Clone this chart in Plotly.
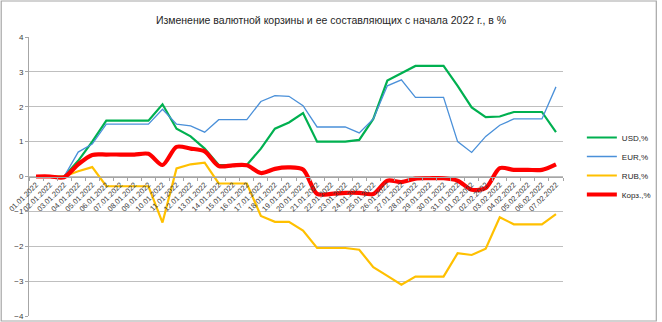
import plotly.graph_objects as go

dates = ["01.01.2022", "02.01.2022", "03.01.2022", "04.01.2022", "05.01.2022", "06.01.2022",
         "07.01.2022", "08.01.2022", "09.01.2022", "10.01.2022", "11.01.2022", "12.01.2022",
         "13.01.2022", "14.01.2022", "15.01.2022", "16.01.2022", "17.01.2022", "18.01.2022",
         "19.01.2022", "20.01.2022", "21.01.2022", "22.01.2022", "23.01.2022", "24.01.2022",
         "25.01.2022", "26.01.2022", "27.01.2022", "28.01.2022", "29.01.2022", "30.01.2022",
         "31.01.2022", "01.02.2022", "02.02.2022", "03.02.2022", "04.02.2022", "05.02.2022",
         "06.02.2022", "07.02.2022"]

usd = [0, 0, 0, 0.45, 1.0, 1.6, 1.6, 1.6, 1.6, 2.07, 1.37, 1.15, 0.8, 0.33, 0.33, 0.33,
       0.8, 1.37, 1.55, 1.82, 1.0, 1.0, 1.0, 1.05, 1.65, 2.75, 2.95, 3.17, 3.17, 3.17,
       2.6, 1.98, 1.7, 1.72, 1.85, 1.85, 1.85, 1.27]

eur = [0, 0, 0, 0.7, 0.93, 1.5, 1.5, 1.5, 1.5, 1.93, 1.5, 1.45, 1.27, 1.63, 1.63, 1.63,
       2.15, 2.32, 2.3, 2.03, 1.42, 1.42, 1.42, 1.25, 1.65, 2.6, 2.77, 2.27, 2.27, 2.27,
       1.0, 0.69, 1.15, 1.47, 1.65, 1.65, 1.65, 2.57]

rub = [0, 0, 0, 0.15, 0.27, -0.28, -0.28, -0.28, -0.28, -1.32, 0.23, 0.35, 0.4, -0.2, -0.2, -0.2,
       -1.13, -1.3, -1.3, -1.55, -2.05, -2.05, -2.05, -2.1, -2.6, -2.85, -3.1, -2.87, -2.87, -2.87,
       -2.2, -2.25, -2.07, -1.17, -1.37, -1.37, -1.37, -1.08]

basket = [0, 0, -0.02, 0.35, 0.62, 0.63, 0.63, 0.63, 0.65, 0.33, 0.85, 0.8, 0.72, 0.3, 0.32, 0.32,
          0.1, 0.22, 0.26, 0.2, -0.5, -0.5, -0.47, -0.47, -0.5, -0.12, -0.16, -0.06, -0.05, -0.05,
          -0.12, -0.38, -0.33, 0.24, 0.19, 0.19, 0.19, 0.35]

names = ["USD,%", "EUR,%", "RUB,%", "Корз.,%"]
title = "Изменение валютной корзины и ее составляющих с начала 2022 г., в %"

FONT = "Liberation Sans, Arial, sans-serif"

fig = go.Figure()
fig.add_trace(go.Scatter(x=dates, y=usd, name=names[0], mode="lines",
                         line=dict(color="#00B050", width=2.2)))
fig.add_trace(go.Scatter(x=dates, y=eur, name=names[1], mode="lines",
                         line=dict(color="#4A90D9", width=1.3)))
fig.add_trace(go.Scatter(x=dates, y=rub, name=names[2], mode="lines",
                         line=dict(color="#FFC000", width=2.2)))
fig.add_trace(go.Scatter(x=dates, y=basket, name=names[3], mode="lines",
                         line=dict(color="#FF0000", width=4.2, shape="spline", smoothing=0.8)))

W, H = 662, 322
L, R, T, B = 29, 95, 37, 6
pw, ph = W - L - R, H - T - B

fig.update_layout(
    width=W, height=H,
    template="none",
    paper_bgcolor="white", plot_bgcolor="white",
    margin=dict(l=L, r=R, t=T, b=B, pad=0),
    font=dict(family=FONT, size=8, color="#404040"),
    title=dict(text=title, x=0.5, xref="container", xanchor="center",
               y=1 - 20 / H, yref="container", yanchor="middle",
               font=dict(family=FONT, size=10.5, color="#262626")),
    showlegend=True,
    legend=dict(x=(586 - L) / pw, xanchor="left", y=(316 - 123) / ph, yanchor="top",
                font=dict(family=FONT, size=8, color="#262626"),
                bgcolor="rgba(0,0,0,0)", borderwidth=0, tracegroupgap=0),
    xaxis=dict(type="category", anchor="free", position=0.5, showgrid=False,
               showline=True, linecolor="#A6A6A6", linewidth=1,
               ticks="outside", ticklen=3, tickcolor="#A6A6A6", tickson="boundaries",
               tickangle=-45, tickfont=dict(size=7.5, color="#404040"),
               automargin=False, range=[-0.5, len(dates) - 0.5], zeroline=False),
    yaxis=dict(range=[-4, 4], dtick=1, showgrid=True, gridcolor="#BFBFBF", gridwidth=1,
               showline=True, linecolor="#A6A6A6", linewidth=1, ticks="outside",
               ticklen=3, tickcolor="#A6A6A6", zeroline=False, automargin=False,
               tickfont=dict(size=8, color="#404040")),
    shapes=[dict(type="rect", xref="paper", yref="paper",
                 x0=(1 - L) / pw, x1=(661 - L) / pw,
                 y0=(H - B - 321) / ph, y1=(H - B - 1) / ph,
                 line=dict(color="#A6A6A6", width=1.2), fillcolor="rgba(0,0,0,0)", layer="below")],
)

fig.write_html("out.html")
